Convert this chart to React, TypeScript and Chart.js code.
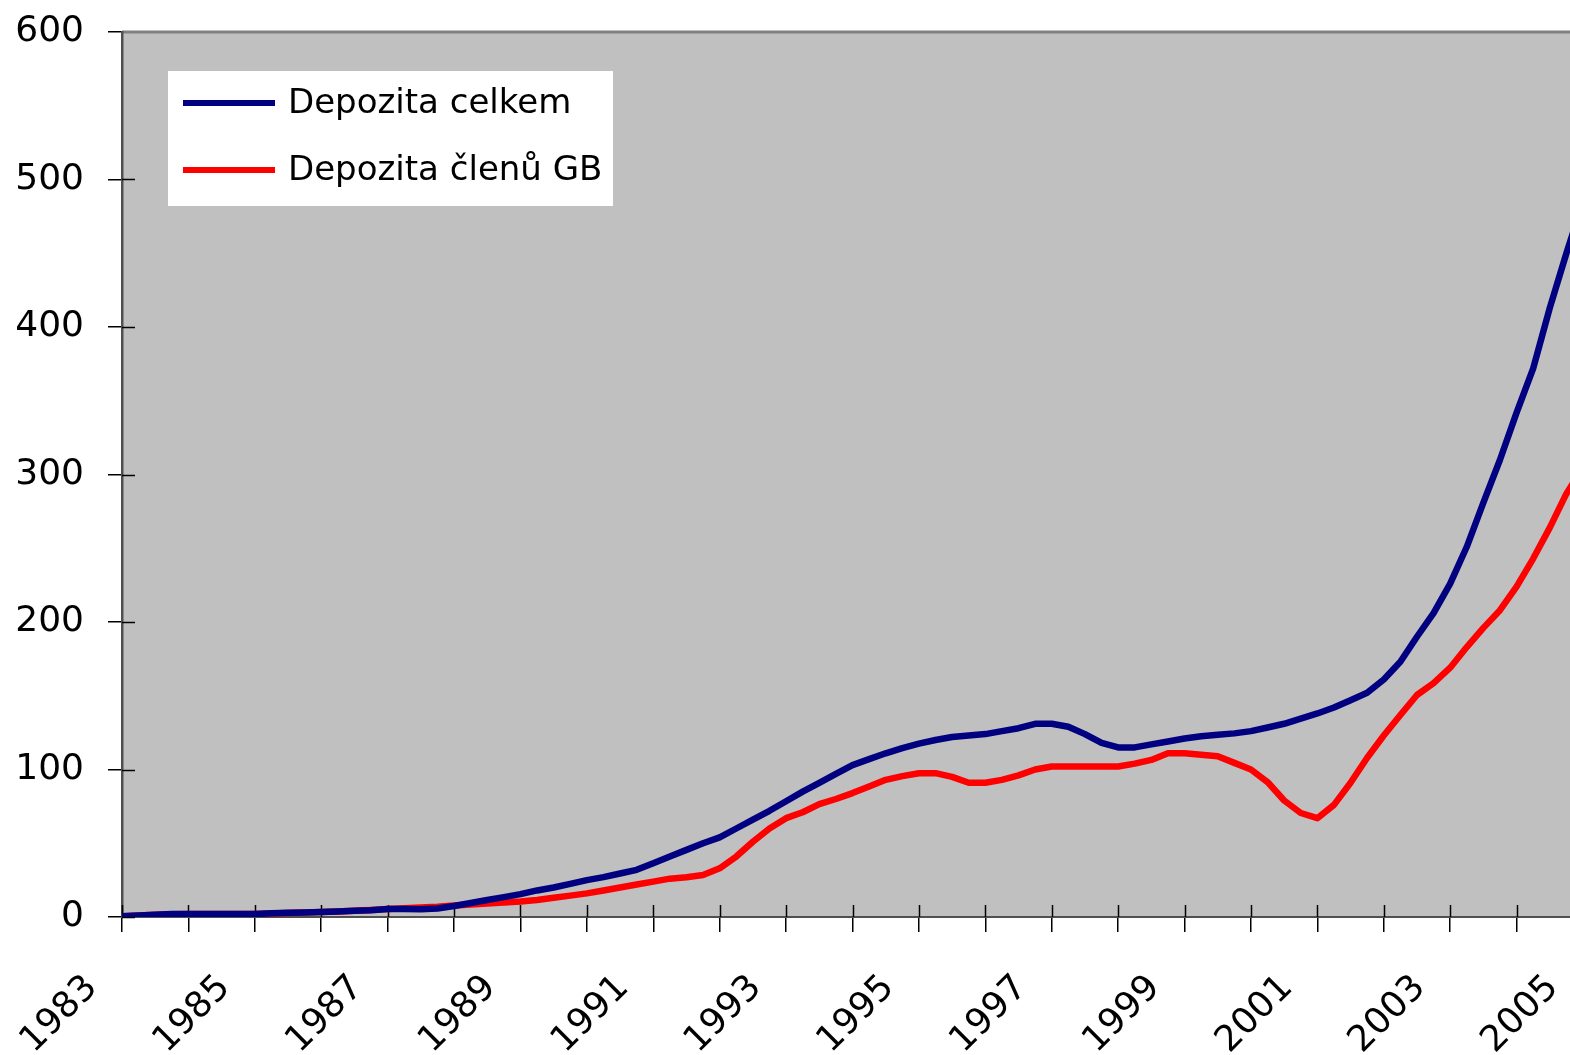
import React, { useEffect, useRef } from 'react';
import { Chart, registerables } from 'chart.js';

Chart.register(...registerables);

// Quarterly observations starting at 1983 Q1 (index i -> 1983 + i/4)
const startYear = 1983;
const labelYears = [1983, 1985, 1987, 1989, 1991, 1993, 1995, 1997, 1999, 2001, 2003, 2005];
const yTickValues = [0, 100, 200, 300, 400, 500, 600];

const depozitaCelkem = [
  0.5, 1, 1.5, 2,
  2, 2, 2, 2,
  2, 2.5, 2.8, 3,
  3.4, 3.8, 4.2, 4.6,
  5.4, 5.4, 5.2, 5.8,
  7.5, 9.5, 11.5, 13.5,
  15.5, 18, 20, 22.5,
  25, 27, 29.5, 32,
  36.5, 41, 45.5, 50,
  54, 60, 66, 72,
  78.5, 85, 91, 97,
  103, 107, 111, 114.5,
  117.5, 120, 122, 123,
  124, 126, 128, 131,
  131, 129, 124, 118,
  115, 115, 117, 119,
  121, 122.5, 123.5, 124.5,
  126, 128.5, 131, 134.5,
  138, 142, 147, 152,
  161, 173, 190, 206,
  226, 251, 281, 310,
  342, 372, 413, 450,
  485,
];

const depozitaClenuGB = [
  0.5, 1, 1.5, 1.8,
  2, 2, 2, 2,
  2, 2.3, 2.7, 3,
  3.4, 3.8, 4.3, 4.8,
  5.4, 6, 6.5, 7,
  7.8, 8.5, 9.2, 9.8,
  10.5, 11.5, 13, 14.5,
  16, 18, 20, 22,
  24, 26, 27, 28.5,
  33, 41, 51, 60,
  67, 71, 76.5, 80,
  84, 88.5, 93, 95.5,
  97.5, 97.5, 95, 91,
  91, 93, 96, 100,
  102, 102, 102, 102,
  102, 104, 106.5, 111,
  111, 110, 109, 104.5,
  100, 91.5, 79, 70.5,
  67, 76, 91, 108,
  123, 137, 150.5, 158.5,
  169, 183, 196, 208,
  224, 243, 264, 287,
  305,
];

const seriesNames = ['Depozita celkem', 'Depozita členů GB'];
const seriesColors = ['#000080', '#FF0000'];

const FONT = '"DejaVu Sans", Verdana, sans-serif';

export default function App() {
  const ref = useRef<HTMLCanvasElement>(null);

  useEffect(() => {
    const canvas = ref.current;
    if (!canvas) return;

    const toPoints = (vals: number[]) => vals.map((v, i) => ({ x: startYear + i / 4, y: v }));

    const plotPlugin = {
      id: 'plotDecor',
      beforeDraw(chart: any) {
        const { ctx, chartArea: a } = chart;
        ctx.save();
        ctx.fillStyle = '#C0C0C0';
        ctx.fillRect(a.left, a.top, a.right - a.left, a.bottom - a.top);
        ctx.strokeStyle = '#808080';
        ctx.lineWidth = 3;
        ctx.beginPath();
        ctx.moveTo(a.left, a.top);
        ctx.lineTo(a.right + 50, a.top);
        ctx.stroke();
        ctx.restore();
      },
      beforeDatasetsDraw(chart: any) {
        const { ctx, chartArea: a, scales } = chart;
        ctx.save();
        ctx.strokeStyle = '#000';
        ctx.lineWidth = 1.5;
        ctx.beginPath();
        scales.x.ticks.forEach((t: any) => {
          const px = Math.round(scales.x.getPixelForValue(t.value)) + 0.5;
          ctx.moveTo(px, a.bottom);
          ctx.lineTo(px, a.bottom - 12);
        });
        scales.y.ticks.forEach((t: any) => {
          if (t.value === 600) return;
          const py = Math.round(scales.y.getPixelForValue(t.value)) + 0.5;
          ctx.moveTo(a.left, py);
          ctx.lineTo(a.left + 13, py);
        });
        ctx.stroke();
        ctx.restore();
      },
      afterDraw(chart: any) {
        const { ctx } = chart;
        ctx.save();
        ctx.fillStyle = '#FFFFFF';
        ctx.fillRect(168, 71, 445, 135);
        ctx.font = `34px ${FONT}`;
        ctx.textBaseline = 'middle';
        ctx.textAlign = 'left';
        const rows = [103, 170];
        chart.data.datasets.forEach((ds: any, i: number) => {
          const y = rows[i];
          ctx.strokeStyle = ds.borderColor;
          ctx.lineWidth = 6;
          ctx.beginPath();
          ctx.moveTo(183, y);
          ctx.lineTo(275, y);
          ctx.stroke();
          ctx.fillStyle = '#000';
          ctx.fillText(ds.label, 288, y + 1);
        });
        ctx.restore();
      },
    };

    const chart = new Chart(canvas, {
      type: 'line',
      data: {
        datasets: [
          {
            label: seriesNames[0],
            data: toPoints(depozitaCelkem),
            borderColor: seriesColors[0],
            backgroundColor: seriesColors[0],
            borderWidth: 6.5,
            pointRadius: 0,
            tension: 0,
            borderJoinStyle: 'round',
          },
          {
            label: seriesNames[1],
            data: toPoints(depozitaClenuGB),
            borderColor: seriesColors[1],
            backgroundColor: seriesColors[1],
            borderWidth: 6.5,
            pointRadius: 0,
            tension: 0,
            borderJoinStyle: 'round',
          },
        ],
      },
      options: {
        responsive: false,
        animation: false,
        layout: { padding: { top: 32, right: 17, left: 0, bottom: 0 } },
        plugins: {
          legend: { display: false },
          tooltip: { enabled: false },
        },
        scales: {
          x: {
            type: 'linear',
            min: 1983,
            max: 2005,
            grid: { drawOnChartArea: false, drawTicks: true, tickLength: 15, color: '#000', lineWidth: 1.5 },
            border: { display: true, color: '#505050', width: 2 },
            ticks: {
              stepSize: 1,
              autoSkip: false,
              maxRotation: 45,
              minRotation: 45,
              padding: 35,
              labelOffset: -30,
              color: '#000',
              font: { family: FONT, size: 36 },
              callback: (v: any) => {
                const yr = Math.round(Number(v));
                return labelYears.includes(yr) ? String(yr) : '';
              },
            },
            afterFit: (scale: any) => {
              scale.height = 138;
              scale.paddingLeft = 0;
              scale.paddingRight = 0;
            },
          },
          y: {
            type: 'linear',
            min: 0,
            max: 600,
            grid: { drawOnChartArea: false, drawTicks: true, tickLength: 14, color: '#000', lineWidth: 1.5 },
            border: { display: true, color: '#505050', width: 2.5 },
            ticks: {
              stepSize: 100,
              padding: 24,
              color: '#000',
              font: { family: FONT, size: 36 },
              callback: (v: any) => (yTickValues.includes(Number(v)) ? String(v) : ''),
            },
            afterFit: (scale: any) => {
              scale.width = 122;
              scale.paddingTop = 0;
              scale.paddingBottom = 0;
            },
          },
        },
      },
      plugins: [plotPlugin],
    } as any);

    return () => chart.destroy();
  }, []);

  return (
    <div
      style={{
        position: 'fixed',
        left: 0,
        top: 0,
        width: 1570,
        height: 1055,
        overflow: 'hidden',
        background: '#FFFFFF',
      }}
    >
      <canvas ref={ref} width={1600} height={1055} style={{ display: 'block' }} />
    </div>
  );
}
